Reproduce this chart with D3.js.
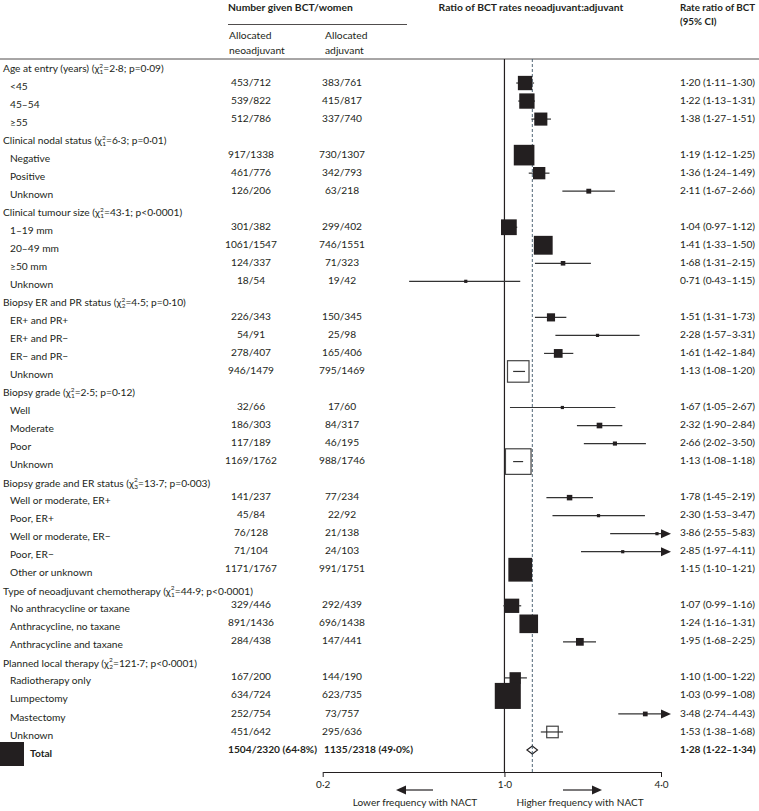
<!DOCTYPE html>
<html lang="en">
<head>
<meta charset="UTF-8">
<title>Ratio of BCT rates neoadjuvant:adjuvant</title>
<script src="https://d3js.org/d3.v7.min.js"></script>
<style>
  body { margin: 0; background: #fff; }
  svg text { font-family: Lato, "Open Sans", sans-serif; fill: #231f20; }
</style>
</head>
<body>
<svg width="759" height="811"></svg>
<script>
// ---- data ----
var groupTitles = ["Age at entry (years)", "Clinical nodal status", "Clinical tumour size",
  "Biopsy ER and PR status", "Biopsy grade", "Biopsy grade and ER status",
  "Type of neoadjuvant chemotherapy", "Planned local therapy"];
var groupDf = ["1", "1", "1", "2", "1", "3", "1", "2"];
var groupChi = ["2·8", "6·3", "43·1", "4·5", "2·5", "13·7", "44·9", "121·7"];
var groupP = ["p=0·09", "p=0·01", "p<0·0001", "p=0·10", "p=0·12", "p=0·003", "p<0·0001", "p<0·0001"];

var subLabels = [
  ["<45", "45–54", "≥55"],
  ["Negative", "Positive", "Unknown"],
  ["1–19 mm", "20–49 mm", "≥50 mm", "Unknown"],
  ["ER+ and PR+", "ER+ and PR−", "ER− and PR−", "Unknown"],
  ["Well", "Moderate", "Poor", "Unknown"],
  ["Well or moderate, ER+", "Poor, ER+", "Well or moderate, ER−", "Poor, ER−", "Other or unknown"],
  ["No anthracycline or taxane", "Anthracycline, no taxane", "Anthracycline and taxane"],
  ["Radiotherapy only", "Lumpectomy", "Mastectomy", "Unknown"]
];
var neoGiven = [[453, 539, 512], [917, 461, 126], [301, 1061, 124, 18], [226, 54, 278, 946],
  [32, 186, 117, 1169], [141, 45, 76, 71, 1171], [329, 891, 284], [167, 634, 252, 451]];
var neoWomen = [[712, 822, 786], [1338, 776, 206], [382, 1547, 337, 54], [343, 91, 407, 1479],
  [66, 303, 189, 1762], [237, 84, 128, 104, 1767], [446, 1436, 438], [200, 724, 754, 642]];
var adjGiven = [[383, 415, 337], [730, 342, 63], [299, 746, 71, 19], [150, 25, 165, 795],
  [17, 84, 46, 988], [77, 22, 21, 24, 991], [292, 696, 147], [144, 623, 73, 295]];
var adjWomen = [[761, 817, 740], [1307, 793, 218], [402, 1551, 323, 42], [345, 98, 406, 1469],
  [60, 317, 195, 1746], [234, 92, 138, 103, 1751], [439, 1438, 441], [190, 735, 757, 636]];
var ratio = [[1.20, 1.22, 1.38], [1.19, 1.36, 2.11], [1.04, 1.41, 1.68, 0.71], [1.51, 2.28, 1.61, 1.13],
  [1.67, 2.32, 2.66, 1.13], [1.78, 2.30, 3.86, 2.85, 1.15], [1.07, 1.24, 1.95], [1.10, 1.03, 3.48, 1.53]];
var ciLow = [[1.11, 1.13, 1.27], [1.12, 1.24, 1.67], [0.97, 1.33, 1.31, 0.43], [1.31, 1.57, 1.42, 1.08],
  [1.05, 1.90, 2.02, 1.08], [1.45, 1.53, 2.55, 1.97, 1.10], [0.99, 1.16, 1.68], [1.00, 0.99, 2.74, 1.38]];
var ciHigh = [[1.30, 1.31, 1.51], [1.25, 1.49, 2.66], [1.12, 1.50, 2.15, 1.15], [1.73, 3.31, 1.84, 1.20],
  [2.67, 2.84, 3.50, 1.18], [2.19, 3.47, 5.83, 4.11, 1.21], [1.16, 1.31, 2.25], [1.22, 1.08, 4.43, 1.68]];
// subgroups drawn as open boxes (unknown categories not in the trend test)
var openBoxes = [[3, 3], [4, 3], [7, 3]];

var totalNeo = [1504, 2320];
var totalAdj = [1135, 2318];
var totalRatio = [1.28, 1.22, 1.34];
var axisTicks = [0.2, 1.0, 4.0];

// ---- layout ----
var svg = d3.select("svg");
var dot = function(v, n) { return v.toFixed(n).replace(".", "·"); };
var ink = "#231f20";

var rows = [];
groupTitles.forEach(function(t, g) {
  rows.push({type: "head", g: g});
  subLabels[g].forEach(function(lab, j) {
    var open = openBoxes.some(function(o) { return o[0] == g && o[1] == j; });
    rows.push({type: "sub", label: lab, neo: neoGiven[g][j] + "/" + neoWomen[g][j],
      adj: adjGiven[g][j] + "/" + adjWomen[g][j], rr: ratio[g][j], lo: ciLow[g][j], hi: ciHigh[g][j], open: open});
  });
});
rows.push({type: "total"});

var yScale = d3.scaleLinear().domain([0, rows.length - 1]).range([65, 750]);
var xScale = d3.scaleLog().domain([0.2, 4]).range([322.7, 661]);
var sizeScale = d3.scaleLinear().domain([0, 45]).range([0, 26]);
var axisY = 772, topY = 59;

// headers
var head = svg.append("g").attr("font-size", 10.3);
head.append("text").attr("x", 228).attr("y", 11).attr("font-weight", "bold").text("Number given BCT/women");
head.append("line").attr("x1", 228).attr("x2", 407).attr("y1", 24.5).attr("y2", 24.5).attr("stroke", ink).attr("stroke-width", 0.8);
head.append("text").attr("x", 229).attr("y", 39).text("Allocated");
head.append("text").attr("x", 229).attr("y", 54).text("neoadjuvant");
head.append("text").attr("x", 325).attr("y", 39).text("Allocated");
head.append("text").attr("x", 325).attr("y", 54).text("adjuvant");
head.append("text").attr("x", 531).attr("y", 11).attr("text-anchor", "middle").attr("font-weight", "bold").text("Ratio of BCT rates neoadjuvant:adjuvant");
head.append("text").attr("x", 680).attr("y", 11).attr("font-weight", "bold").attr("font-size", 9.8).text("Rate ratio of BCT");
head.append("text").attr("x", 680).attr("y", 25).attr("font-weight", "bold").attr("font-size", 9.8).text("(95% CI)");

svg.append("line").attr("x1", 0).attr("x2", 759).attr("y1", topY).attr("y2", topY).attr("stroke", ink).attr("stroke-width", 0.8);

// reference lines
svg.append("line").attr("x1", xScale(1)).attr("x2", xScale(1)).attr("y1", topY).attr("y2", axisY)
  .attr("stroke", ink).attr("stroke-width", 1.2);
svg.append("line").attr("x1", xScale(totalRatio[0])).attr("x2", xScale(totalRatio[0])).attr("y1", topY).attr("y2", axisY)
  .attr("stroke", "#3d5566").attr("stroke-width", 0.9).attr("stroke-dasharray", "3,2");

var body = svg.append("g").attr("font-size", 10.2);

rows.forEach(function(r, i) {
  var y = yScale(i);
  if (r.type == "head") {
    var t = body.append("text").attr("x", 3).attr("y", y + 4).attr("dominant-baseline", "middle");
    t.append("tspan").text(groupTitles[r.g] + " (χ");
    t.append("tspan").attr("font-size", 6.5).attr("dy", -3.5).text("2");
    t.append("tspan").attr("font-size", 6.5).attr("dx", -3.5).attr("dy", 6.5).text(groupDf[r.g]);
    t.append("tspan").attr("dy", -3).text("=" + groupChi[r.g] + "; " + groupP[r.g] + ")");
    return;
  }
  if (r.type == "total") {
    body.append("rect").attr("x", 0).attr("y", y + 4 - 12).attr("width", 24).attr("height", 24).attr("fill", ink);
    body.append("text").attr("x", 30).attr("y", y + 4).attr("dominant-baseline", "middle").attr("font-weight", "bold").text("Total");
    body.append("text").attr("x", 228).attr("y", y).attr("dominant-baseline", "middle").attr("font-weight", "bold")
      .text(totalNeo[0] + "/" + totalNeo[1] + " (" + dot(100 * totalNeo[0] / totalNeo[1], 1) + "%)");
    body.append("text").attr("x", 324).attr("y", y).attr("dominant-baseline", "middle").attr("font-weight", "bold")
      .text(totalAdj[0] + "/" + totalAdj[1] + " (" + dot(100 * totalAdj[0] / totalAdj[1], 1) + "%)");
    var xl = xScale(totalRatio[1]), xc = xScale(totalRatio[0]), xh = xScale(totalRatio[2]);
    body.append("path").attr("d", "M" + xl + "," + y + "L" + xc + "," + (y - 4) + "L" + xh + "," + y + "L" + xc + "," + (y + 4) + "Z")
      .attr("fill", "#fff").attr("stroke", ink).attr("stroke-width", 1.1);
    body.append("line").attr("x1", xc).attr("x2", xc).attr("y1", y - 4).attr("y2", y + 4)
      .attr("stroke", "#3d5566").attr("stroke-width", 0.9).attr("stroke-dasharray", "3,2");
    body.append("text").attr("x", 680).attr("y", y).attr("dominant-baseline", "middle").attr("font-weight", "bold")
      .text(dot(totalRatio[0], 2) + " (" + dot(totalRatio[1], 2) + "–" + dot(totalRatio[2], 2) + ")");
    return;
  }
  body.append("text").attr("x", 10).attr("y", y + 4).attr("dominant-baseline", "middle").text(r.label);
  body.append("text").attr("x", 251).attr("y", y).attr("text-anchor", "middle").attr("dominant-baseline", "middle").text(r.neo);
  body.append("text").attr("x", 342).attr("y", y).attr("text-anchor", "middle").attr("dominant-baseline", "middle").text(r.adj);
  body.append("text").attr("x", 680).attr("y", y).attr("dominant-baseline", "middle")
    .text(dot(r.rr, 2) + " (" + dot(r.lo, 2) + "–" + dot(r.hi, 2) + ")");

  var side = Math.max(3.2, sizeScale(3.92 / Math.log(r.hi / r.lo)));
  var x1 = xScale(Math.max(r.lo, 0.2)), x2 = xScale(Math.min(r.hi, 4));
  var ci = function() {
    body.append("line").attr("x1", x1).attr("x2", x2).attr("y1", y).attr("y2", y)
      .attr("stroke", "#333").attr("stroke-width", 1.2);
    if (r.hi > 4) {
      body.append("path").attr("d", "M" + x2 + "," + (y - 4.5) + "L" + (x2 + 10) + "," + y + "L" + x2 + "," + (y + 4.5) + "Z")
        .attr("fill", ink);
    }
  };
  if (!r.open) ci();
  body.append("rect").attr("x", xScale(r.rr) - side / 2).attr("y", y - side / 2)
    .attr("width", side).attr("height", side)
    .attr("fill", r.open ? "#fff" : ink)
    .attr("stroke", r.open ? "#444" : "none").attr("stroke-width", 1.2);
  if (r.open) ci();
});

// axis
var axis = svg.append("g").attr("transform", "translate(0," + axisY + ")")
  .call(d3.axisBottom(xScale).tickValues(axisTicks).tickSize(5).tickSizeOuter(0)
    .tickFormat(function(d) { return dot(d, 1); }));
axis.select(".domain").attr("stroke", ink).attr("stroke-width", 1);
axis.selectAll(".tick line").attr("stroke", ink);
axis.selectAll(".tick text").attr("font-size", 10).attr("font-family", "Lato, sans-serif").attr("fill", ink).attr("dy", "0.75em");

// direction arrows
var arr = svg.append("g");
arr.append("line").attr("x1", 433).attr("x2", 404).attr("y1", 790).attr("y2", 790).attr("stroke", ink).attr("stroke-width", 1.2);
arr.append("path").attr("d", "M396,790L406,785.5L406,794.5Z").attr("fill", ink);
arr.append("line").attr("x1", 563).attr("x2", 594).attr("y1", 790).attr("y2", 790).attr("stroke", ink).attr("stroke-width", 1.2);
arr.append("path").attr("d", "M602,790L592,785.5L592,794.5Z").attr("fill", ink);
arr.append("text").attr("x", 415).attr("y", 806).attr("text-anchor", "middle").attr("font-size", 10).text("Lower frequency with NACT");
arr.append("text").attr("x", 580).attr("y", 806).attr("text-anchor", "middle").attr("font-size", 10).text("Higher frequency with NACT");
</script>
</body>
</html>
